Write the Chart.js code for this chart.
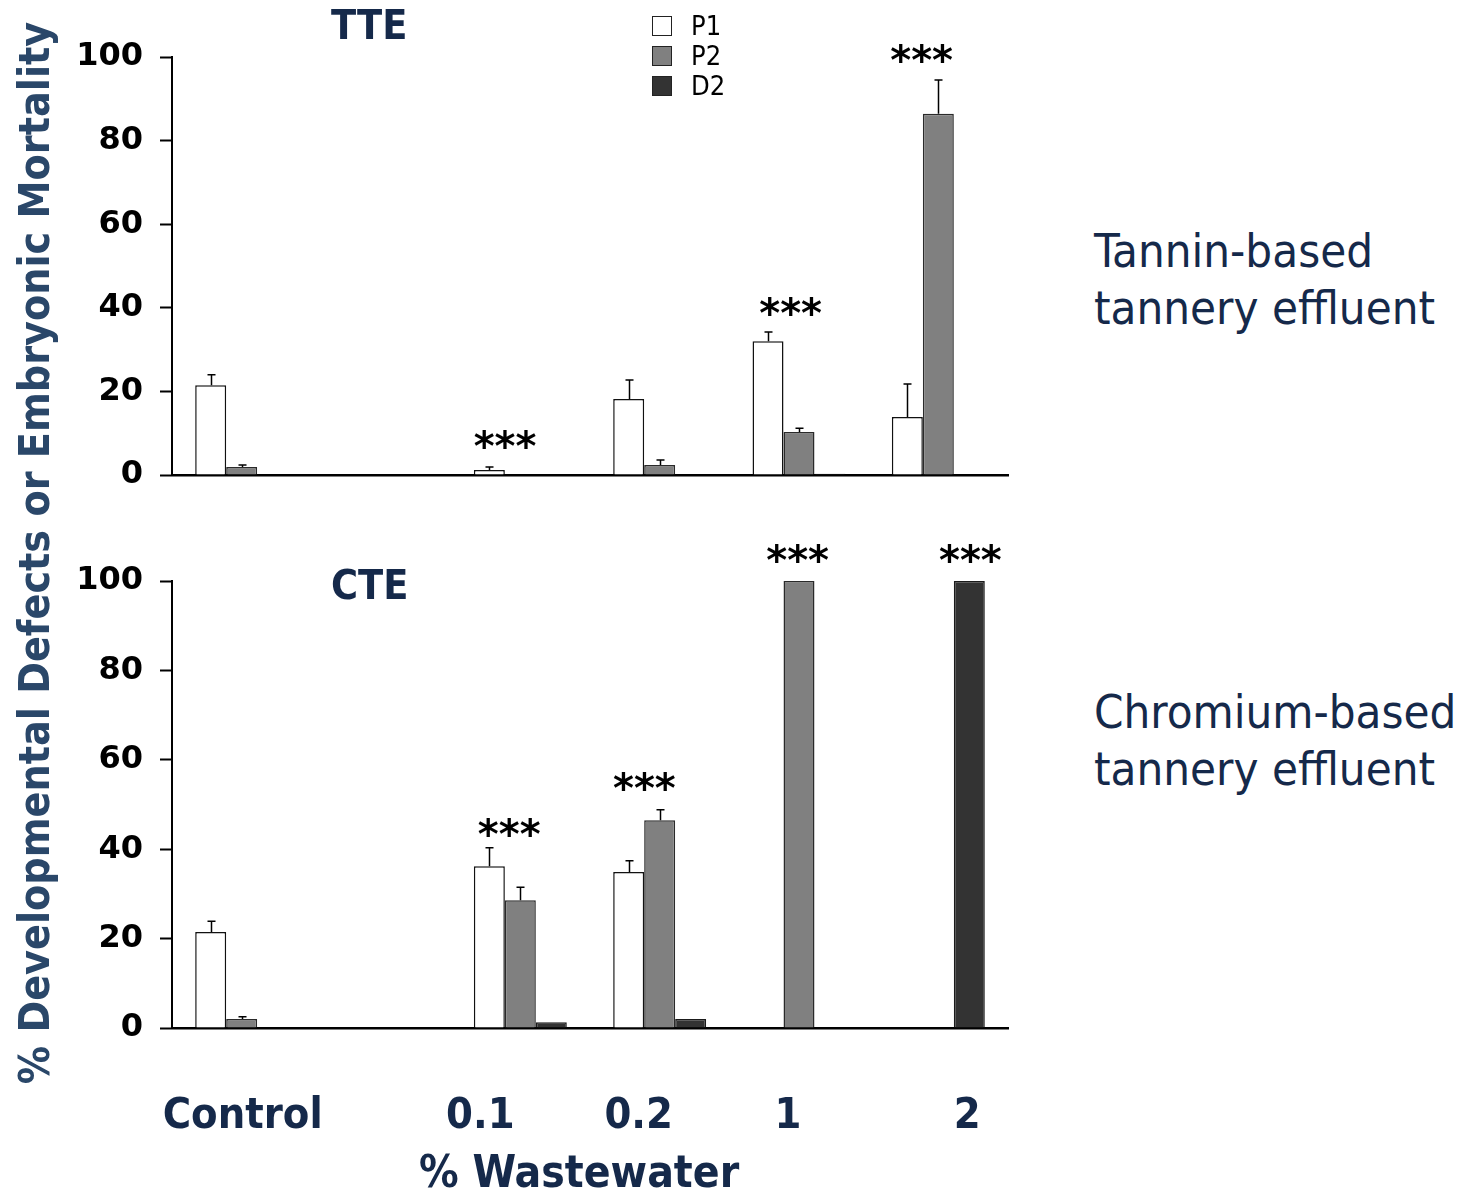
<!DOCTYPE html>
<html>
<head>
<meta charset="utf-8">
<script src="https://cdn.jsdelivr.net/npm/chart.js@4.4.1/dist/chart.umd.min.js"></script>
<style>
    html, body { margin: 0; padding: 0; background: #fff; }
    #wrap { position: relative; width: 1469px; height: 1196px; overflow: hidden; }
    .abs { position: absolute; white-space: nowrap; }
    .navy { color: #15294a; font-family: "DejaVu Sans Condensed", "DejaVu Sans", sans-serif; }
    #topBox { left: 0; top: 0; width: 1020px; height: 520px; }
    #botBox { left: 0; top: 530px; width: 1020px; height: 666px; }
    .panel { font-weight: bold; font-size: 41px; line-height: 50px; }
    .side { font-size: 47px; line-height: 57px; }
    #ytitle { left: -515px; top: 528px; width: 1100px; height: 50px; line-height: 50px; text-align: center;
              transform: rotate(-90deg); font-weight: bold; font-size: 42.5px; color: #2a4769;
              font-family: "DejaVu Sans Condensed", "DejaVu Sans", sans-serif; }
    #legend { left: 652px; top: 11px; font-family: "DejaVu Sans Condensed", "DejaVu Sans", sans-serif; font-size: 27px; }
    #legend div { height: 30px; line-height: 30px; display: flex; align-items: center; }
    #legend span.box { display: inline-block; width: 18px; height: 18px; border: 1.5px solid #222; margin-right: 19px; }
</style>
</head>
<body>
<div id="wrap">
    <div class="abs" id="topBox"><canvas id="tteChart" width="1020" height="520"></canvas></div>
    <div class="abs" id="botBox"><canvas id="cteChart" width="1020" height="666"></canvas></div>

    <div class="abs navy panel" style="left:331px; top:0px;">TTE</div>
    <div class="abs navy panel" style="left:331px; top:560px;">CTE</div>

    <div class="abs navy side" style="left:1094px; top:222px;">Tannin-based<br>tannery effluent</div>
    <div class="abs navy side" style="left:1094px; top:683px;">Chromium-based<br>tannery effluent</div>

    <div class="abs" id="ytitle">% Developmental Defects or Embryonic Mortality</div>
    <div class="abs navy" style="left:419px; top:1147px; font-weight:bold; font-size:44px; line-height:50px;">% Wastewater</div>

    <div class="abs" id="legend"></div>
</div>

<script>
'use strict';

// categories along the x axis (one empty slot between Control and 0.1)
const categories = ['Control', '', '0.1', '0.2', '1', '2'];
const seriesNames = ['P1', 'P2', 'D2'];

// TTE panel (tannin-based effluent)
const ttePaper1 = [21.5, 0, 1.2, 18.2, 32.0, 13.9];
const ttePaper1Err = [2.5, 0, 0.7, 4.5, 2.2, 7.9];
const tteP2 = [1.9, 0, 0, 2.4, 10.3, 86.4];
const tteP2Err = [0.5, 0, 0, 1.2, 0.9, 8.1];
const tteD2 = [0, 0, 0, 0, 0.3, 0];
const tteD2Err = [0, 0, 0, 0, 0, 0];
// significance marks: x in category units, y in % units
const tteStarX = [1.89, 3.94, 4.88];
const tteStarY = [8.1, 40.0, 100.5];

// CTE panel (chromium-based effluent)
const ctePaper1 = [21.5, null, 36.2, 34.9, null, null];
const ctePaper1Err = [2.4, 0, 4.1, 2.5, 0, 0];
const cteP2 = [2.0, null, 28.6, 46.5, 100, null];
const cteP2Err = [0.5, 0, 2.9, 2.3, 0, 0];
const cteD2 = [null, null, 1.3, 2.0, null, 100];
const cteD2Err = [0, 0, 0, 0, 0, 0];
const cteStarX = [1.92, 2.89, 3.99, 5.23];
const cteStarY = [44.5, 54.8, 105.8, 105.8];

const yTicks = [0, 20, 40, 60, 80, 100];

const fills = ['#ffffff', '#808080', '#333333'];
const borders = ['#111111', '#2a2a2a', '#1a1a1a'];
const navy = '#15294a';
const condensed = '"DejaVu Sans Condensed", "DejaVu Sans", sans-serif';

// legend
const legendEl = document.getElementById('legend');
seriesNames.forEach((name, i) => {
    const row = document.createElement('div');
    row.innerHTML = `<span class="box" style="background:${fills[i]}"></span>${name}`;
    legendEl.appendChild(row);
});

// upward error whiskers with a small cap
const errorBarPlugin = {
    id: 'errorBars',
    afterDatasetsDraw(chart, args, opts) {
        const ctx = chart.ctx;
        const yScale = chart.scales.y;
        ctx.save();
        ctx.strokeStyle = '#000';
        ctx.lineWidth = 1.5;
        chart.data.datasets.forEach((ds, di) => {
            const meta = chart.getDatasetMeta(di);
            meta.data.forEach((bar, i) => {
                const err = ds.errors[i];
                const v = ds.data[i];
                if (!err || v === null) return;
                const x = Math.round(bar.x) + 0.5;
                const yTop = yScale.getPixelForValue(v + err);
                ctx.beginPath();
                ctx.moveTo(x, bar.y);
                ctx.lineTo(x, yTop);
                ctx.moveTo(x - 4, yTop);
                ctx.lineTo(x + 4, yTop);
                ctx.stroke();
            });
        });
        ctx.restore();
    }
};

// "***" significance marks
const starsPlugin = {
    id: 'stars',
    afterDraw(chart, args, opts) {
        const ctx = chart.ctx;
        ctx.save();
        ctx.fillStyle = '#000';
        ctx.font = 'bold 40px "DejaVu Sans", sans-serif';
        ctx.textAlign = 'center';
        ctx.textBaseline = 'alphabetic';
        opts.x.forEach((sx, i) => {
            const px = chart.scales.x.getPixelForValue(sx);
            const py = chart.scales.y.getPixelForValue(opts.y[i]);
            ctx.fillText('***', px, py + 19);
        });
        ctx.restore();
    }
};

// x category labels under the lower panel, nudged like the original figure
const catLabelPlugin = {
    id: 'catLabels',
    afterDraw(chart, args, opts) {
        if (!opts.show) return;
        const ctx = chart.ctx;
        ctx.save();
        ctx.fillStyle = navy;
        ctx.font = 'bold 43px ' + condensed;
        ctx.textAlign = 'center';
        ctx.textBaseline = 'middle';
        categories.forEach((label, i) => {
            if (!label) return;
            const px = chart.scales.x.getPixelForValue(i) + opts.nudge[i];
            ctx.fillText(label, px, opts.y);
        });
        ctx.restore();
    }
};

function makeDatasets(values, errors) {
    return values.map((data, i) => ({
        label: seriesNames[i],
        data: data,
        errors: errors[i],
        backgroundColor: fills[i],
        borderColor: borders[i],
        borderWidth: 1.5,
        categoryPercentage: 0.667,
        barPercentage: 1.0,
        clip: 6
    }));
}

function createPanelChart(canvasId, datasets, padding, stars, labels) {
    const ctx = document.getElementById(canvasId);
    if (!ctx) {
        console.error(`Canvas element with id "${canvasId}" not found`);
        return null;
    }

    return new Chart(ctx, {
        type: 'bar',
        data: {
            labels: categories,
            datasets: datasets
        },
        options: {
            responsive: false,
            animation: false,
            layout: { padding: padding },
            plugins: {
                legend: { display: false },
                tooltip: { enabled: false },
                stars: stars,
                catLabels: labels
            },
            scales: {
                x: {
                    grid: { display: false, drawTicks: false },
                    ticks: { display: false },
                    border: { display: true, color: '#000', width: 2.5 },
                    afterFit: scale => { scale.height = 0; }
                },
                y: {
                    min: 0,
                    max: 100,
                    afterBuildTicks: scale => {
                        scale.ticks = yTicks.map(v => ({ value: v }));
                    },
                    grid: {
                        drawOnChartArea: false,
                        tickLength: 12,
                        tickColor: '#000',
                        tickWidth: 2
                    },
                    border: { display: true, color: '#000', width: 2 },
                    ticks: {
                        padding: 17,
                        color: '#000',
                        font: { family: '"DejaVu Sans", sans-serif', size: 32, weight: 'bold' }
                    },
                    afterFit: scale => { scale.width = 172; }
                }
            }
        },
        plugins: [errorBarPlugin, starsPlugin, catLabelPlugin]
    });
}

createPanelChart('tteChart',
    makeDatasets([ttePaper1, tteP2, tteD2], [ttePaper1Err, tteP2Err, tteD2Err]),
    { top: 57, bottom: 45, left: 0, right: 12 },
    { x: tteStarX, y: tteStarY },
    { show: false });

createPanelChart('cteChart',
    makeDatasets([ctePaper1, cteP2, cteD2], [ctePaper1Err, cteP2Err, cteD2Err]),
    { top: 51, bottom: 168, left: 0, right: 12 },
    { x: cteStarX, y: cteStarY },
    { show: true, y: 587, nudge: [1, 0, -40, -21, -11, 29] });
</script>
</body>
</html>
